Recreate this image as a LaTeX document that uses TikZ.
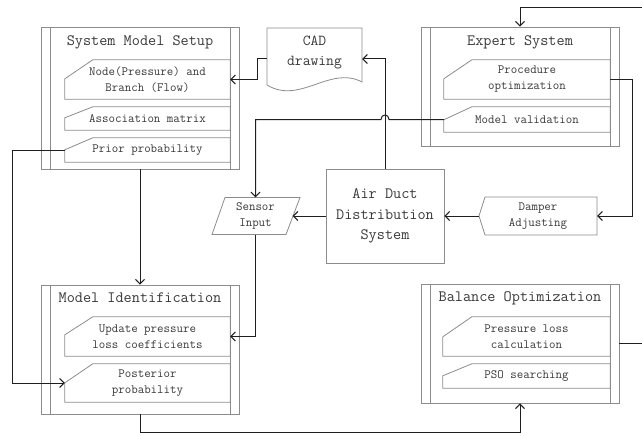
\documentclass[tikz,border=0pt]{standalone}
\usetikzlibrary{arrows.meta}
\definecolor{boxc}{gray}{0.55}
\definecolor{linec}{gray}{0.12}
\definecolor{txtc}{gray}{0.22}
\tikzset{
  boxline/.style={draw=boxc, line width=0.8pt},
  conn/.style={draw=linec, line width=1pt},
  arr/.style={conn, -{Straight Barb[length=4.5pt,width=9pt]}},
  module/.style={boxline, inner sep=0pt},
  ttl/.style={text=txtc, font=\ttfamily\fontsize{15.8}{19}\selectfont, inner sep=0pt},
  subtxt/.style={text=txtc, font=\ttfamily\fontsize{12.6}{16}\selectfont, align=center, inner sep=0pt},
  bigtxt/.style={text=txtc, font=\ttfamily\fontsize{15.8}{20.5}\selectfont, align=center, inner sep=0pt},
  hidden/.style={inner sep=0pt, draw=none},
}
\newcommand\chambox[8]{% name, cx, cy, w, h, chamfer x, chamfer y, text
  \node[subtxt, minimum width=#4, minimum height=#5] (#1) at (#2,#3) {#8};
  \draw[boxline] ([xshift=#6pt]#1.north west) -- (#1.north east) -- (#1.south east)
    -- (#1.south west) -- ([yshift=-#7pt]#1.north west) -- cycle;
}
\newcommand\modbox[5]{% name, cx, cy, w, h
  \node[module, minimum width=#4, minimum height=#5] (#1) at (#2,#3) {};
  \draw[boxline] ([xshift=10pt]#1.north west) -- ([xshift=10pt]#1.south west);
  \draw[boxline] ([xshift=-9pt]#1.north east) -- ([xshift=-9pt]#1.south east);
}
\begin{document}
\begin{tikzpicture}[x=1pt, y=-1pt]
\useasboundingbox (0,0) rectangle (642,436);

% ---------- modules ----------
\modbox{sms}{140}{98}{198}{142}
\node[ttl] (smst) at (140,42) {System Model Setup};
\chambox{n1}{147.5}{79.5}{165}{39}{28}{19}{Node(Pressure) and\\Branch (Flow)}
\chambox{n2}{147.5}{118.5}{165}{23}{28}{11}{Association matrix}
\chambox{n3}{147.5}{150}{165}{24}{28}{12}{Prior probability}

\modbox{es}{520}{86.5}{198}{119}
\node[ttl] (est) at (520,42) {Expert System};
\chambox{e1}{527}{79.5}{166}{39}{28}{19}{Procedure\\optimization}
\chambox{e2}{527}{119.5}{166}{25}{28}{13}{Model validation}

\modbox{mi}{140}{349.5}{198}{129}
\node[ttl] (mit) at (140,298) {Model Identification};
\chambox{m1}{147.5}{336.5}{165}{39}{28}{18}{Update pressure\\loss coefficients}
\chambox{m2}{147.5}{383}{165}{38}{28}{19}{Posterior\\probability}

\modbox{bo}{520}{343.5}{198}{119}
\node[ttl] (bot) at (520,298) {Balance Optimization};
\chambox{b1}{526.5}{336.5}{167}{39}{29}{20}{Pressure loss\\calculation}
\chambox{b2}{526.5}{376}{167}{24}{29}{12}{PSO searching}

% ---------- other blocks ----------
\node[bigtxt, boxline, minimum width=118, minimum height=94] (air) at (385,216)
  {Air Duct\\Distribution\\System};

\node[hidden, minimum width=95, minimum height=62] (cad) at (314.5,59) {};
\draw[boxline] (267,85) -- (267,28) -- (362,28) -- (362,82)
  .. controls (330,65) and (300,105) .. (267,85);
\node[bigtxt, font=\ttfamily\fontsize{15.2}{20}\selectfont] (cadt) at (314.5,52) {CAD\\drawing};

\node[subtxt, minimum width=74, minimum height=37] (sensor) at (255.5,216) {Sensor\\Input};
\draw[boxline] (225,197.5) -- (300,197.5) -- (286,234.5) -- (212,234.5) -- cycle;

\node[subtxt, minimum width=118, minimum height=38] (damper) at (538,216) {Damper\\Adjusting};
\draw[boxline] (485,197) -- (597,197) -- (597,235) -- (485,235) -- (479,216) -- cycle;

% ---------- connectors ----------
\draw[arr] (cad.west) -- ++(-9,0) |- (n1.east);
\draw[arr] (air.north) |- (cad.east);
\draw[arr] (e2.west) -- (389,119.5) .. controls (389,113.5) and (381,113.5) .. (381,119.5)
  -- (sensor.north |- e2.west) -- (sensor.north);
\draw[arr] (air.west) -- (sensor.east);
\draw[arr] (damper.west) -- (air.east);
\draw[arr] (e1.east) -- ++(22,0) |- (damper.east);
\draw[arr] (sensor.south) |- (m1.east);
\draw[arr] (n3.west) -- ++(-52,0) |- (m2.west);
\draw[arr] (sms.south) -- (mi.north);
\draw[arr] (mi.south) -- ++(0,18) -| (bo.south);
\draw[arr] (bo.east) -- (645,343.5) -- (645,8) -| (es.north);
\end{tikzpicture}
\end{document}
